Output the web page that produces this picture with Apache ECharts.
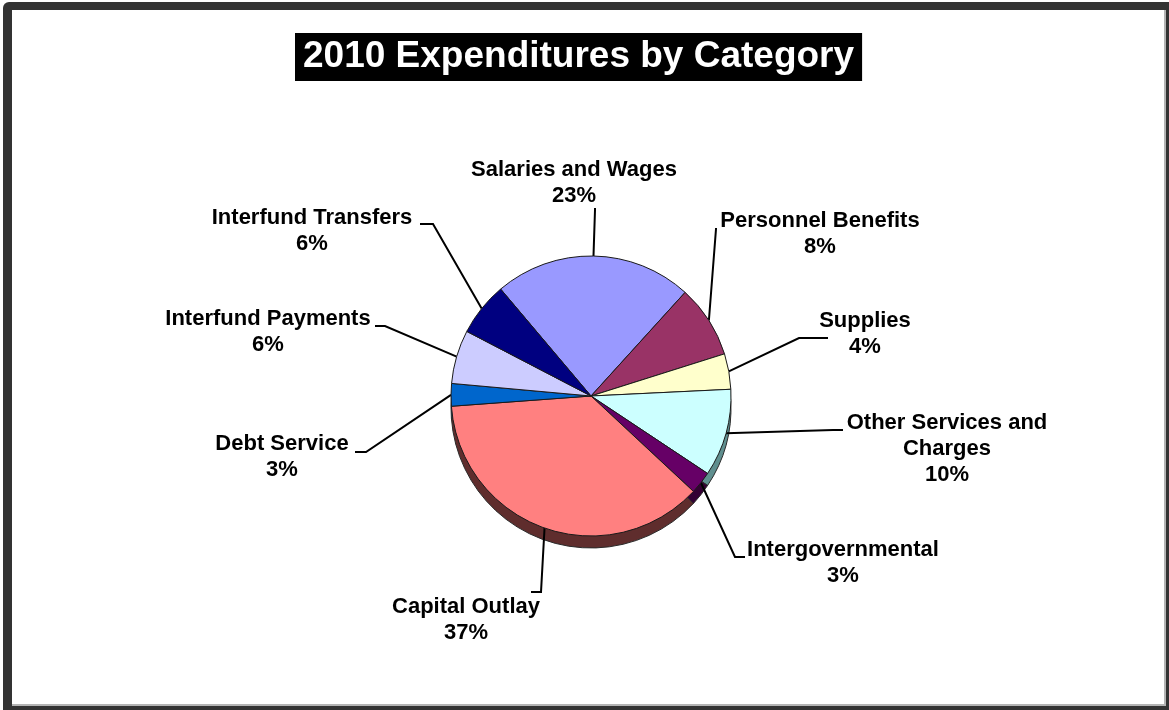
<!DOCTYPE html>
<html>
<head>
<meta charset="utf-8">
<title>2010 Expenditures by Category</title>
<script src="https://cdn.jsdelivr.net/npm/echarts@6/dist/echarts.min.js"></script>
<style>
  html, body { margin: 0; padding: 0; background: #ffffff; }
  #chart { width: 1169px; height: 710px; }
</style>
</head>
<body>
<div id="chart"></div>
<script>
// Expenditure categories, clockwise from the top of the pie
const categories = [
  'Salaries and Wages',
  'Personnel Benefits',
  'Supplies',
  'Other Services and Charges',
  'Intergovernmental',
  'Capital Outlay',
  'Debt Service',
  'Interfund Payments',
  'Interfund Transfers'
];

// Share of total expenditures (percent)
const shares = [22.9, 8.4, 4.1, 10.1, 2.6, 36.9, 2.6, 6.2, 6.2];

// Slice face colours and the darker tone used for the pie's rim
const faceColors = ['#9999ff', '#993366', '#ffffcc', '#ccffff', '#660066', '#ff8080', '#0066cc', '#ccccff', '#000080'];
const rimColors  = ['#5c5c99', '#5c1f3d', '#99997a', '#5f8f8f', '#330033', '#5f2d2d', '#003d7a', '#7a7a99', '#00004d'];

// Where each label block sits, and the bend / end of its leader line
const labelSpots = [
  { x: 574, y: 183, elbow: [595, 210], end: [595, 208] },
  { x: 820, y: 234, elbow: [716, 229], end: [716, 228] },
  { x: 865, y: 334, elbow: [799, 338], end: [828, 338] },
  { x: 947, y: 449, elbow: [833, 430], end: [843, 430] },
  { x: 843, y: 563, elbow: [735, 557], end: [745, 557] },
  { x: 466, y: 620, elbow: [541, 592], end: [531, 592] },
  { x: 282, y: 457, elbow: [366, 452], end: [355, 452] },
  { x: 268, y: 332, elbow: [385, 326], end: [375, 326] },
  { x: 312, y: 231, elbow: [433, 224], end: [420, 224] }
];

const pieCenter = [591, 396];
const pieRadius = 140;
const rimDepth = 12;
const startAngle = 130.2;

const chart = echarts.init(document.getElementById('chart'), null, { renderer: 'canvas' });

function wrapName(name) {
  return name.replace(' and Charges', ' and\nCharges');
}

const option = {
  animation: false,
  backgroundColor: '#ffffff',
  title: {
    text: '2010 Expenditures by Category',
    left: 295,
    top: 33,
    padding: [4, 8],
    backgroundColor: '#000000',
    textStyle: {
      color: '#ffffff',
      fontFamily: 'Liberation Sans, Arial, sans-serif',
      fontWeight: 'bold',
      fontSize: 37,
      lineHeight: 40
    }
  },
  graphic: [
    // dark frame with a light inner edge on the right and bottom
    { type: 'rect', z: -10, silent: true, shape: { x: 3, y: 2, width: 1166, height: 708, r: [6, 0, 0, 0] }, style: { fill: '#333333' } },
    { type: 'rect', z: -9, silent: true, shape: { x: 12, y: 10, width: 1154, height: 696 }, style: { fill: '#b4b4b4' } },
    { type: 'rect', z: -8, silent: true, shape: { x: 12, y: 10, width: 1152, height: 694 }, style: { fill: '#ffffff' } }
  ],
  series: [
    {
      // rim of the pie, shifted down underneath the face
      type: 'pie',
      z: 1,
      silent: true,
      center: [pieCenter[0], pieCenter[1] + rimDepth],
      radius: pieRadius,
      startAngle: startAngle,
      clockwise: true,
      avoidLabelOverlap: false,
      label: { show: false },
      labelLine: { show: false },
      itemStyle: { borderColor: '#2a2a2a', borderWidth: 1 },
      data: categories.map((name, i) => ({
        name: name,
        value: shares[i],
        itemStyle: { color: rimColors[i] }
      }))
    },
    {
      type: 'pie',
      z: 2,
      center: pieCenter,
      radius: pieRadius,
      startAngle: startAngle,
      clockwise: true,
      percentPrecision: 0,
      avoidLabelOverlap: false,
      itemStyle: { borderColor: '#1a1a1a', borderWidth: 1 },
      label: {
        show: true,
        position: 'outside',
        color: '#000000',
        fontFamily: 'Liberation Sans, Arial, sans-serif',
        fontWeight: 'bold',
        fontSize: 22,
        lineHeight: 26,
        align: 'center',
        formatter: (p) => wrapName(p.name) + '\n' + p.percent + '%'
      },
      labelLine: {
        show: true,
        length: 20,
        length2: 10,
        smooth: false,
        lineStyle: { color: '#000000', width: 2 }
      },
      labelLayout: function (params) {
        const spot = labelSpots[params.dataIndex];
        const start = params.labelLinePoints ? params.labelLinePoints[0] : spot.elbow;
        return {
          x: spot.x,
          y: spot.y,
          align: 'center',
          verticalAlign: 'middle',
          labelLinePoints: [start, spot.elbow, spot.end]
        };
      },
      data: categories.map((name, i) => ({
        name: name,
        value: shares[i],
        itemStyle: { color: faceColors[i] }
      }))
    }
  ]
};

chart.setOption(option);
</script>
</body>
</html>
